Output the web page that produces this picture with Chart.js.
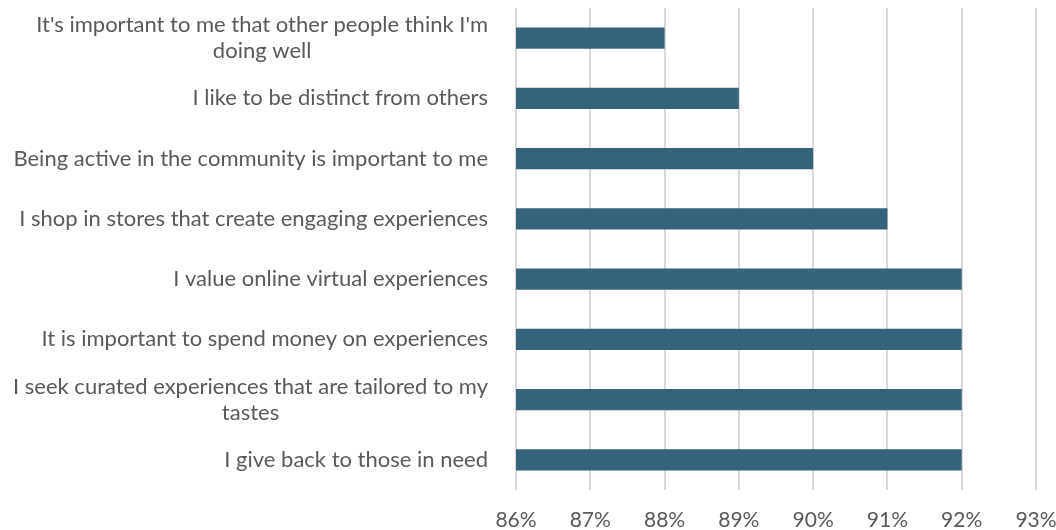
<!DOCTYPE html>
<html>
<head>
<meta charset="utf-8">
<script src="https://cdn.jsdelivr.net/npm/chart.js@4.4.0/dist/chart.umd.min.js"></script>
<style>
  html, body { margin: 0; padding: 0; background: #fff; }
</style>
</head>
<body>
<canvas id="chart" width="1056" height="530"></canvas>
<script>
// data
const categories = [
    ["It's important to me that other people think I'm", "doing well"],
    ["I like to be distinct from others"],
    ["Being active in the community is important to me"],
    ["I shop in stores that create engaging experiences"],
    ["I value online virtual experiences"],
    ["It is important to spend money on experiences"],
    ["I seek curated experiences that are tailored to my", "tastes"],
    ["I give back to those in need"]
];
const values = [88, 89, 90, 91, 92, 92, 92, 92];
const xMin = 86;
const xMax = 93;

const textColor = '#595959';
const fontFamily = 'Lato, "Open Sans", sans-serif';
const fontSize = 22;

// y labels: block right aligned, lines centered inside block (like Excel)
const labelPlugin = {
    id: 'yLabels',
    afterDraw(chart) {
        const ctx = chart.ctx;
        const yScale = chart.scales.y;
        const rightEdge = chart.chartArea.left - 28;
        const lineH = 26;
        ctx.save();
        ctx.font = fontSize + 'px ' + fontFamily;
        ctx.fillStyle = textColor;
        ctx.textAlign = 'center';
        ctx.textBaseline = 'middle';
        categories.forEach((lines, i) => {
            const yc = yScale.getPixelForValue(i);
            const w = Math.max(...lines.map(l => ctx.measureText(l).width));
            const cx = rightEdge - w / 2;
            const top = yc - (lines.length - 1) * lineH / 2;
            lines.forEach((l, j) => ctx.fillText(l, cx, top + j * lineH));
        });
        ctx.restore();
    }
};

new Chart(document.getElementById('chart'), {
    type: 'bar',
    data: {
        labels: categories,
        datasets: [{
            data: values,
            backgroundColor: '#35637c',
            borderWidth: 0,
            barPercentage: 0.7,
            categoryPercentage: 0.5
        }]
    },
    options: {
        indexAxis: 'y',
        responsive: false,
        animation: false,
        devicePixelRatio: 1,
        layout: { padding: { left: 0, right: 0, top: 8, bottom: 0 } },
        plugins: { legend: { display: false }, tooltip: { enabled: false } },
        scales: {
            x: {
                min: xMin,
                max: xMax,
                ticks: {
                    stepSize: 1,
                    color: textColor,
                    font: { family: fontFamily, size: 21 },
                    padding: 18,
                    callback: v => v + '%'
                },
                grid: { color: '#d9d9d9', lineWidth: 2, drawTicks: false },
                border: { display: false },
                afterFit: s => { s.height = 40; s.paddingLeft = 0; s.paddingRight = 20; }
            },
            y: {
                ticks: { display: false },
                grid: { display: false },
                border: { display: false },
                afterFit: s => { s.width = 516; }
            }
        }
    },
    plugins: [labelPlugin]
});
</script>
</body>
</html>
